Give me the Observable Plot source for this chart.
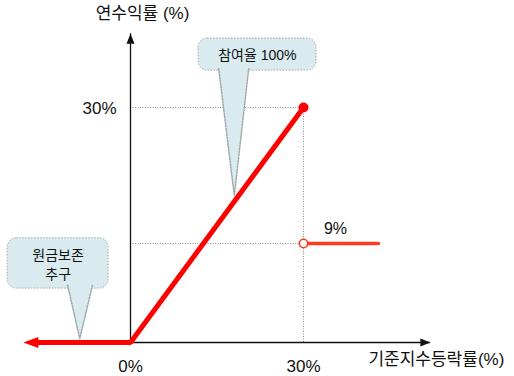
<!DOCTYPE html>
<html>
<head>
<meta charset="utf-8">
<script src="https://cdn.jsdelivr.net/npm/d3@7"></script>
<script src="https://cdn.jsdelivr.net/npm/@observablehq/plot@0.6"></script>
<style>
  html, body { margin: 0; padding: 0; background: #fff; }
  svg { display: block; }
</style>
</head>
<body>
<div id="chart"></div>
<script>
// ---- data ----
const xTicks = [0, 30];
const yTicks = [30];
const xTickLabels = ["0%", "30%"];
const yTickLabels = ["30%"];
const yTitle = "연수익률 (%)";
const xTitle = "기준지수등락률(%)";

// payoff series (participation 100% up to 30%, capital protected below 0)
const payoffX = [-17.2, 0, 30];
const payoffY = [0, 0, 30];
// rebate level after the knock-out
const rebateX = [30, 43];
const rebateY = [9, 9];
const rebateLabel = "9%";

// axis extents
const axisTopY = 41.4;
const axisRightX = 52;

// callouts
const callout1Text = "참여율 100%";
const callout1Box = {x1: 11.8, x2: 32.25, y1: 35.7, y2: 40.65, tx: 22.0, ty: 38.03};
const callout1TailX = [15.3, 18.0, 20.5];
const callout1TailY = [36.0, 16.4, 36.0];

const callout2Text = "원금보존\n추구";
const callout2Box = {x1: -21.3, x2: -3.8, y1: 4.9, y2: 9.8, tx: -12.55, ty: 7.23};
const callout2TailX = [-10.9, -8.8, -6.6];
const callout2TailY = [5.2, 0.35, 5.2];

// ---- helpers ----
const payoff = payoffX.map((x, i) => ({x, y: payoffY[i]}));
const rebate = rebateX.map((x, i) => ({x, y: rebateY[i]}));
const tail1 = callout1TailX.map((x, i) => ({x, y: callout1TailY[i]}));
const tail2 = callout2TailX.map((x, i) => ({x, y: callout2TailY[i]}));

// arrowhead symbol pointing to +x; tip at (ahead, 0)
const arrowHead = (ahead, back, half) => ({
  draw(ctx) {
    ctx.moveTo(ahead, 0);
    ctx.lineTo(-back, -half);
    ctx.lineTo(-back, half);
    ctx.closePath();
  }
});

const FONT = "'Liberation Sans', Arial, 'Noto Sans CJK KR', sans-serif";
const bubbleFill = "#d9ebee";
const bubbleStroke = "#a0a8aa";
const gridStyle = {stroke: "#8a8a8a", strokeDasharray: "1,1.5", strokeWidth: 1};

const chart = Plot.plot({
  width: 514,
  height: 376,
  margin: 0,
  style: {background: "#fff", fontFamily: FONT},
  x: {type: "linear", domain: [0, 30], range: [130, 303], axis: null},
  y: {type: "linear", domain: [0, 9, 30], range: [342, 243, 107], axis: null},
  marks: [
    // dotted guides
    Plot.ruleY(yTicks, {x1: 0, x2: 30, ...gridStyle}),
    Plot.ruleY(rebateY.slice(0, 1), {x1: 0, x2: 30, ...gridStyle}),
    Plot.ruleX([30], {y1: 0, y2: 30, ...gridStyle}),

    // axes
    Plot.ruleX([0], {y1: 0, y2: axisTopY, stroke: "#111", strokeWidth: 1.3}),
    Plot.ruleY([0], {x1: 0, x2: axisRightX, stroke: "#111", strokeWidth: 1.3}),
    Plot.dot([{x: 0, y: axisTopY}], {x: "x", y: "y", symbol: arrowHead(0, 10, 4), rotate: -90, fill: "#111", stroke: "none"}),
    Plot.dot([{x: axisRightX, y: 0}], {x: "x", y: "y", symbol: arrowHead(0, 10, 4), fill: "#111", stroke: "none"}),

    // callout bubbles
    Plot.rect([callout1Box], {x1: "x1", x2: "x2", y1: "y1", y2: "y2", rx: 9, fill: bubbleFill, stroke: bubbleStroke, strokeDasharray: "1.5,1.5"}),
    Plot.line(tail1, {x: "x", y: "y", fill: bubbleFill, stroke: bubbleStroke, strokeDasharray: "1.5,1.5", curve: "linear"}),
    Plot.text([callout1Box], {x: "tx", y: "ty", text: () => callout1Text, fontSize: 14, fill: "#111"}),

    Plot.rect([callout2Box], {x1: "x1", x2: "x2", y1: "y1", y2: "y2", rx: 9, fill: bubbleFill, stroke: bubbleStroke, strokeDasharray: "1.5,1.5"}),
    Plot.line(tail2, {x: "x", y: "y", fill: bubbleFill, stroke: bubbleStroke, strokeDasharray: "1.5,1.5", curve: "linear"}),
    Plot.text([callout2Box], {x: "tx", y: "ty", text: () => callout2Text, fontSize: 14, lineHeight: 1.36, fill: "#111"}),

    // payoff lines
    Plot.line(payoff, {x: "x", y: "y", stroke: "#ff0000", strokeWidth: 5, strokeLinecap: "butt", strokeLinejoin: "miter"}),
    Plot.dot(payoff.slice(0, 1), {x: "x", y: "y", symbol: arrowHead(8, 7, 5.5), rotate: 180, fill: "#ff0000", stroke: "none"}),
    Plot.dot(payoff.slice(-1), {x: "x", y: "y", r: 5, fill: "#ff0000", stroke: "none"}),
    Plot.line(rebate, {x: "x", y: "y", stroke: "#ff3b1f", strokeWidth: 3.5}),
    Plot.dot(rebate.slice(0, 1), {x: "x", y: "y", r: 4.2, fill: "#fff", stroke: "#ff3b1f", strokeWidth: 1.6}),
    Plot.text(rebate.slice(0, 1), {x: "x", y: "y", text: () => rebateLabel, dx: 32, dy: -15, fontSize: 16, fill: "#111"}),

    // tick labels
    Plot.text(xTicks, {x: d => d, y: 0, text: (d, i) => xTickLabels[i], dy: 24, fontSize: 17, fill: "#111"}),
    Plot.text(yTicks, {x: 0, y: d => d, text: (d, i) => yTickLabels[i], dx: -31, dy: 1, fontSize: 17, fill: "#111"}),

    // axis titles
    Plot.text([yTitle], {x: 0, y: axisTopY, text: d => d, dx: 12, dy: -20, fontSize: 17, fill: "#111"}),
    Plot.text([xTitle], {x: axisRightX, y: 0, text: d => d, dx: 6, dy: 17, fontSize: 17, fill: "#111"})
  ]
});
document.getElementById("chart").appendChild(chart);
</script>
</body>
</html>
